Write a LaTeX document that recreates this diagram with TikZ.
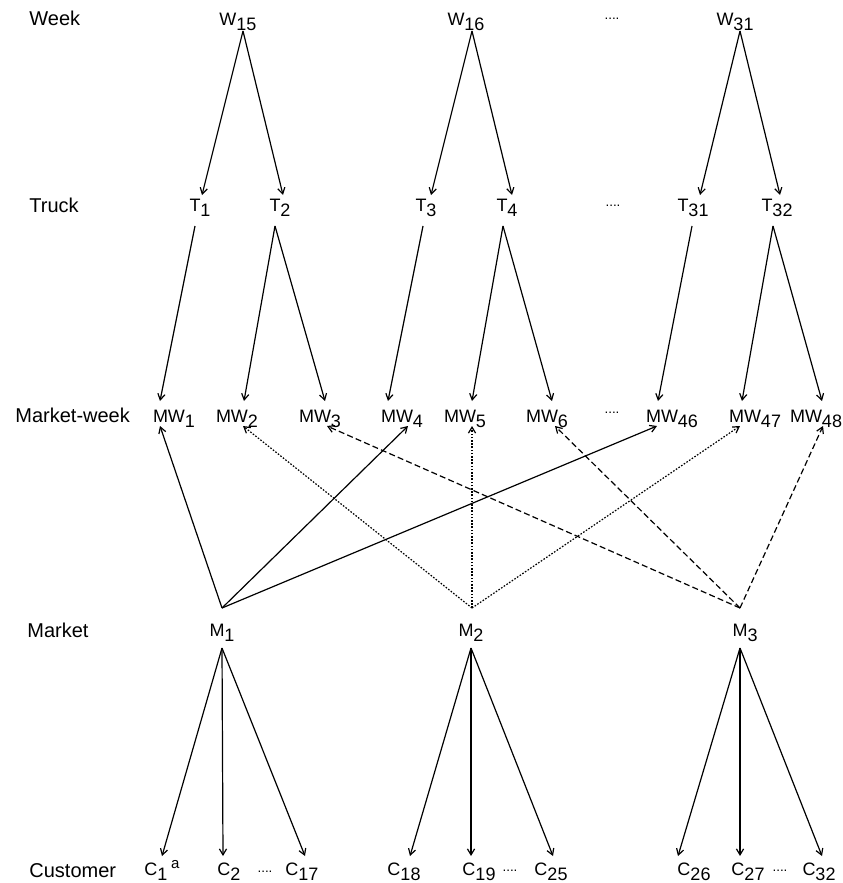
\documentclass[tikz,border=0pt]{standalone}
\usepackage{fontspec}
\setmainfont{Liberation Sans}
\usetikzlibrary{arrows.meta,calc}
\newcommand{\lowsub}[1]{\raisebox{-2.5pt}{#1}}

\begin{document}
\begin{tikzpicture}[x=0.5pt,y=-0.5pt,
  rowlab/.style={anchor=base west,inner sep=0pt,font=\fontsize{10}{12}\selectfont},
  nd/.style={anchor=base,inner sep=0pt,font=\fontsize{9}{10}\selectfont},
  gap/.style={inner sep=0pt,font=\fontsize{6.7}{8}\selectfont},
  arr/.style={line width=0.6pt,-{Straight Barb[length=3pt,width=3.6pt]}},
  dotl/.style={arr,dash pattern=on 0.8pt off 0.8pt},
  dashl/.style={arr,dash pattern=on 3pt off 1.6pt}]
  \useasboundingbox (0,0) rectangle (842,883);
  % row labels
  \node[rowlab] (lweek) at (29,26) {Week};
  \node[rowlab] (ltruck) at (29,212) {Truck};
  \node[rowlab] (lmw) at (15,422) {Market-week};
  \node[rowlab] (lmarket) at (27,637) {Market};
  \node[rowlab] (lcust) at (29,877) {Customer};
  % weeks
  \node[nd] (w15) at (238,26) {W\lowsub{15}};
  \node[nd] (w16) at (466,26) {W\lowsub{16}};
  \node[gap] (gw) at (612,19) {....};
  \node[nd] (w31) at (735,26) {W\lowsub{31}};
  % trucks
  \node[nd] (t1) at (200,211) {T\lowsub{1}};
  \node[nd] (t2) at (280,211) {T\lowsub{2}};
  \node[nd] (t3) at (426,211) {T\lowsub{3}};
  \node[nd] (t4) at (507,211) {T\lowsub{4}};
  \node[gap] (gt) at (613,206) {....};
  \node[nd] (t31) at (693,211) {T\lowsub{31}};
  \node[nd] (t32) at (777,211) {T\lowsub{32}};
  % market-weeks
  \node[nd] (mw1) at (174,422) {MW\lowsub{1}};
  \node[nd] (mw2) at (237,422) {MW\lowsub{2}};
  \node[nd] (mw3) at (320,422) {MW\lowsub{3}};
  \node[nd] (mw4) at (402,422) {MW\lowsub{4}};
  \node[nd] (mw5) at (465,422) {MW\lowsub{5}};
  \node[nd] (mw6) at (547,422) {MW\lowsub{6}};
  \node[gap] (gmw) at (612,413) {....};
  \node[nd] (mw46) at (672,422) {MW\lowsub{46}};
  \node[nd] (mw47) at (755,422) {MW\lowsub{47}};
  \node[nd] (mw48) at (816,422) {MW\lowsub{48}};
  % markets
  \node[nd] (m1) at (222,636) {M\lowsub{1}};
  \node[nd] (m2) at (471,636) {M\lowsub{2}};
  \node[nd] (m3) at (745,636) {M\lowsub{3}};
  % customers
  \node[nd] (c1) at (156,875) {C\lowsub{1}\rlap{\hspace{1.8pt}\raisebox{3.5pt}{\fontsize{7.5}{8}\selectfont a}}};
  \node[nd] (c2) at (229,875) {C\lowsub{2}};
  \node[gap] (gc1) at (265,872) {....};
  \node[nd] (c17) at (302,875) {C\lowsub{17}};
  \node[nd] (c18) at (404,875) {C\lowsub{18}};
  \node[nd] (c19) at (479,875) {C\lowsub{19}};
  \node[gap] (gc2) at (510,871) {....};
  \node[nd] (c25) at (551,875) {C\lowsub{25}};
  \node[nd] (c26) at (694,875) {C\lowsub{26}};
  \node[nd] (c27) at (748,875) {C\lowsub{27}};
  \node[gap] (gc3) at (780,871) {....};
  \node[nd] (c32) at (819,875) {C\lowsub{32}};
  % week -> truck
  \draw[arr] ($(w15.base)+(5,5)$) -- ($(t1.base)+(2,-16)$); \draw[arr] ($(w15.base)+(5,5)$) -- ($(t2.base)+(3,-16)$);
  \draw[arr] ($(w16.base)+(6,5)$) -- ($(t3.base)+(5,-16)$); \draw[arr] ($(w16.base)+(6,5)$) -- ($(t4.base)+(5,-16)$);
  \draw[arr] ($(w31.base)+(5,5)$) -- ($(t31.base)+(7,-16)$); \draw[arr] ($(w31.base)+(5,5)$) -- ($(t32.base)+(3,-16)$);
  % truck -> market-week
  \draw[arr] ($(t1.base)+(-5,15)$) -- ($(mw1.base)+(-14,-21)$);
  \draw[arr] ($(t2.base)+(-5,15)$) -- ($(mw2.base)+(7,-21)$); \draw[arr] ($(t2.base)+(-5,15)$) -- ($(mw3.base)+(5,-21)$);
  \draw[arr] ($(t3.base)+(-3,15)$) -- ($(mw4.base)+(-14,-21)$);
  \draw[arr] ($(t4.base)+(-4,15)$) -- ($(mw5.base)+(7,-21)$); \draw[arr] ($(t4.base)+(-4,15)$) -- ($(mw6.base)+(5,-21)$);
  \draw[arr] ($(t31.base)+(-1,15)$) -- ($(mw46.base)+(-14,-21)$);
  \draw[arr] ($(t32.base)+(-4,15)$) -- ($(mw47.base)+(-13,-21)$); \draw[arr] ($(t32.base)+(-4,15)$) -- ($(mw48.base)+(6,-21)$);
  % market -> market-week
  \draw[arr] ($(m1.base)+(0,-28)$) -- ($(mw1.base)+(-14,4)$);
  \draw[arr] ($(m1.base)+(0,-28)$) -- ($(mw4.base)+(6,4)$);
  \draw[arr] ($(m1.base)+(0,-28)$) -- ($(mw46.base)+(-15,4)$);
  \draw[dotl] ($(m2.base)+(1,-28)$) -- ($(mw2.base)+(6,4)$);
  \draw[dotl] ($(m2.base)+(1,-28)$) -- ($(mw5.base)+(7,4)$);
  \draw[dotl] ($(m2.base)+(1,-28)$) -- ($(mw47.base)+(-15,4)$);
  \draw[dashl] ($(m3.base)+(-5,-28)$) -- ($(mw3.base)+(7,4)$);
  \draw[dashl] ($(m3.base)+(-5,-28)$) -- ($(mw6.base)+(8,4)$);
  \draw[dashl] ($(m3.base)+(-5,-28)$) -- ($(mw48.base)+(7,4)$);
  % market -> customer
  \draw[arr] ($(m1.base)+(0,12)$) -- ($(c1.base)+(6,-19)$); \draw[arr] ($(m1.base)+(0,12)$) -- ($(c2.base)+(-6,-19)$);
  \draw[arr] ($(m1.base)+(0,12)$) -- ($(c17.base)+(3,-19)$);
  \draw[arr] ($(m2.base)+(0,12)$) -- ($(c18.base)+(6,-19)$); \draw[arr] ($(m2.base)+(0,12)$) -- ($(c19.base)+(-8,-19)$);
  \draw[arr] ($(m2.base)+(0,12)$) -- ($(c25.base)+(2,-19)$);
  \draw[arr] ($(m3.base)+(-5,12)$) -- ($(c26.base)+(-16,-19)$); \draw[arr] ($(m3.base)+(-5,12)$) -- ($(c27.base)+(-8,-19)$);
  \draw[arr] ($(m3.base)+(-5,12)$) -- ($(c32.base)+(3,-19)$);
\end{tikzpicture}
\end{document}
